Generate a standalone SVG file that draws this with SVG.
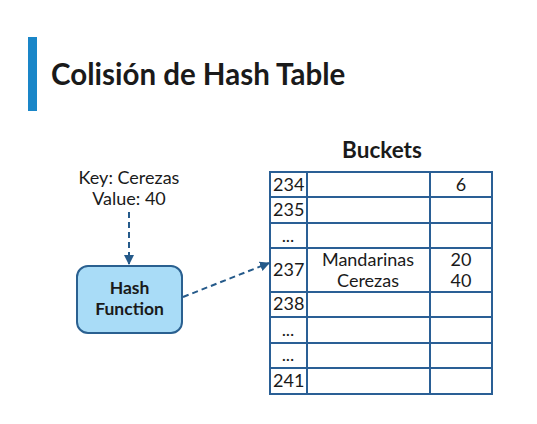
<svg xmlns="http://www.w3.org/2000/svg" width="537" height="424" viewBox="0 0 537 424">
<style>
text{font-family:Lato,"Open Sans",sans-serif;fill:#1a1a1a}
.t{font-size:18px}
.grid{fill:none;stroke:#2a5f95;stroke-width:2}
.conn{fill:none;stroke:#255a8a;stroke-width:2;stroke-dasharray:6 4}
</style>
<defs>
<marker id="ah" viewBox="0 0 10 10" refX="9" refY="5" markerWidth="5" markerHeight="5" orient="auto" markerUnits="strokeWidth">
<path d="M0,0 L10,5 L0,10 z" fill="#255a8a"/>
</marker>
</defs>
<rect width="537" height="424" fill="#fff"/>
<rect x="28" y="37" width="9" height="74" fill="#1a86c8"/>
<text x="51" y="85" font-size="29.5" font-weight="bold">Colisión de Hash Table</text>

<g id="input">
<text class="t" x="129" y="184" text-anchor="middle">Key: Cerezas</text>
<text class="t" x="129" y="205" text-anchor="middle">Value: 40</text>
</g>

<g id="hash">
<rect x="77" y="266" width="105" height="67" rx="11" fill="#a9dcf7" stroke="#2a6090" stroke-width="2"/>
<text x="129.5" y="294" font-size="17.5" font-weight="bold" text-anchor="middle">Hash</text>
<text x="129.5" y="315" font-size="17.5" font-weight="bold" text-anchor="middle">Function</text>
</g>

<g id="buckets">
<text x="382" y="158" font-size="22.5" font-weight="bold" text-anchor="middle">Buckets</text>
<rect class="grid" x="270" y="172" width="222" height="222"/>
<path class="grid" d="M307,172V394M430,172V394M270,197H492M270,223H492M270,248H492M270,292H492M270,317H492M270,343H492M270,368H492"/>
<g>
<text class="t" x="273" y="191">234</text>
<text class="t" x="273" y="216">235</text>
<text class="t" x="288" y="242" text-anchor="middle">...</text>
<text class="t" x="273" y="276">237</text>
<text class="t" x="273" y="310">238</text>
<text class="t" x="288" y="336" text-anchor="middle">...</text>
<text class="t" x="288" y="361" text-anchor="middle">...</text>
<text class="t" x="273" y="387">241</text>
<text class="t" x="368" y="266" text-anchor="middle">Mandarinas</text>
<text class="t" x="368" y="287" text-anchor="middle">Cerezas</text>
<text class="t" x="461" y="191" text-anchor="middle">6</text>
<text class="t" x="461" y="266" text-anchor="middle">20</text>
<text class="t" x="461" y="287" text-anchor="middle">40</text>
</g>
</g>

<g id="connectors">
<path class="conn" d="M129,212V264" marker-end="url(#ah)"/>
<path class="conn" d="M183,297L269,263" marker-end="url(#ah)"/>
</g>
</svg>
